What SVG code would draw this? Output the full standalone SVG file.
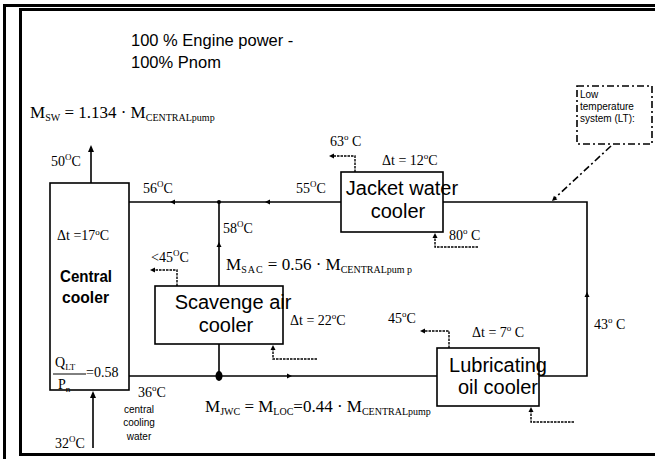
<svg xmlns="http://www.w3.org/2000/svg" width="655" height="459" viewBox="0 0 655 459">
<style>
.frame{fill:none;stroke:#000;stroke-width:3}
.box{fill:#fff;stroke:#000;stroke-width:1.6}
.pipe{fill:none;stroke:#000;stroke-width:1.6}
.dash{fill:none;stroke:#000;stroke-width:1.4;stroke-dasharray:2.5,1}
.dd{fill:none;stroke:#000;stroke-width:1.6;stroke-dasharray:7,3,2,3}
.t{font-family:"Liberation Serif",serif;font-size:14px;fill:#000}
.eq{font-family:"Liberation Serif",serif;font-size:17px;fill:#000}
.s{font-family:"Liberation Sans",Arial,sans-serif;fill:#000}
.lbl{font-family:"Liberation Sans",Arial,sans-serif;font-size:20px;fill:#000;text-anchor:middle}
.sup{font-size:9px}
.sub{font-size:10px}
</style>
<defs>
<path id="ah" d="M0,0 L-7,-3 L-7,3 Z" fill="#000"/>
<path id="ahs" d="M0,0 L-5,-2.5 L-5,2.5 Z" fill="#000"/>
</defs>

<!-- frame -->
<g id="frame">
<path class="frame" d="M3,5.5 H655 M4.5,4 V459"/>
<path class="frame" d="M656,9.5 H20.5 V454.5 H656"/>
</g>

<!-- title -->
<g id="title">
<text class="s" x="131" y="46" font-size="16.5">100 % Engine power -</text>
<text class="s" x="131" y="68" font-size="16.5">100% Pnom</text>
</g>

<!-- connectors -->
<g id="connectors">
<path class="pipe" d="M91,183 V150"/>
<use href="#ah" transform="translate(91,145) rotate(-90)"/>
<path class="pipe" d="M93,448 V396"/>
<use href="#ah" transform="translate(93,391) rotate(-90)"/>
<path class="pipe" d="M129,202 H341"/>
<use href="#ahs" transform="translate(170,202) rotate(180)"/>
<use href="#ahs" transform="translate(265,202) rotate(180)"/>
<circle cx="219" cy="202" r="2"/>
<path class="pipe" d="M219,202 V286"/>
<use href="#ahs" transform="translate(219,242) rotate(-90)"/>
<path class="pipe" d="M219,344 V376"/>
<ellipse cx="219" cy="376" rx="3.5" ry="5"/>
<path class="pipe" d="M129,376 H437"/>
<use href="#ahs" transform="translate(292,376)"/>
<path class="pipe" d="M539,376 H587 V202 H443"/>
<use href="#ahs" transform="translate(587,292) rotate(-90)"/>
<path class="dash" d="M177,286 V270 H154"/>
<use href="#ahs" transform="translate(150,270) rotate(180)"/>
<path class="dash" d="M355,172 V156 H333"/>
<use href="#ahs" transform="translate(329,156) rotate(180)"/>
<path class="dash" d="M478,247 H435 V237"/>
<use href="#ahs" transform="translate(435,233) rotate(-90)"/>
<path class="dash" d="M317,359 H273 V349"/>
<use href="#ahs" transform="translate(273,345) rotate(-90)"/>
<path class="dash" d="M449,348 V331 H424"/>
<use href="#ahs" transform="translate(420,331) rotate(180)"/>
<path class="dash" d="M574,422 H531 V411"/>
<use href="#ahs" transform="translate(531,407) rotate(-90)"/>
<path class="dd" d="M611,146 L555,198"/>
<use href="#ahs" transform="translate(552,201) rotate(137)"/>
</g>

<!-- nodes -->
<g id="central-cooler">
<rect class="box" x="50" y="183" width="79" height="207"/>
<text class="s" x="60" y="282" font-size="17" font-weight="bold" textLength="52" lengthAdjust="spacingAndGlyphs">Central</text>
<text class="s" x="62" y="303" font-size="17" font-weight="bold" textLength="47" lengthAdjust="spacingAndGlyphs">cooler</text>
<text class="t" x="57" y="240">Δt =17<tspan class="sup" dy="-5">o</tspan><tspan dy="5">C</tspan></text>
<text class="t" x="55" y="367" font-size="17">Q<tspan class="sup" dy="3">LT</tspan></text>
<path d="M53,374 H86" stroke="#000" stroke-width="1"/>
<text class="t" x="58" y="389" font-size="17">P<tspan class="sup" dy="3">n</tspan></text>
<text class="t" x="86" y="377" font-size="18">=0.58</text>
</g>

<g id="scavenge-air-cooler">
<rect class="box" x="155" y="286" width="128" height="58"/>
<text class="lbl" x="233" y="309">Scavenge air</text>
<text class="lbl" x="226" y="332">cooler</text>
</g>

<g id="jacket-water-cooler">
<rect class="box" x="341" y="172" width="102" height="60"/>
<text class="lbl" x="402" y="195">Jacket water</text>
<text class="lbl" x="398" y="218">cooler</text>
</g>

<g id="lubricating-oil-cooler">
<rect class="box" x="437" y="348" width="102" height="58"/>
<text class="lbl" x="498" y="372">Lubricating</text>
<text class="lbl" x="498" y="394">oil cooler</text>
</g>

<g id="lt-system">
<rect class="dd" x="577" y="86" width="75" height="58" stroke-width="1.4"/>
<text class="s" x="580" y="98" font-size="10">Low</text>
<text class="s" x="580" y="110" font-size="10">temperature</text>
<text class="s" x="580" y="122" font-size="10">system (LT):</text>
</g>

<!-- labels -->
<g id="labels">
<text class="eq" x="30" y="118" font-size="16">M<tspan class="sub" dy="3">SW</tspan><tspan dy="-3"> = 1.134 · M</tspan><tspan class="sub" dy="3" font-size="9.5">CENTRALpump</tspan></text>
<text class="t" x="51" y="166">50<tspan class="sup" dy="-6">O</tspan><tspan dy="6">C</tspan></text>
<text class="t" x="143" y="193">56<tspan class="sup" dy="-6">O</tspan><tspan dy="6">C</tspan></text>
<text class="t" x="296" y="193">55<tspan class="sup" dy="-6">O</tspan><tspan dy="6">C</tspan></text>
<text class="t" x="223" y="233">58<tspan class="sup" dy="-6">O</tspan><tspan dy="6">C</tspan></text>
<text class="t" x="151" y="262">&lt;45<tspan class="sup" dy="-6">O</tspan><tspan dy="6">C</tspan></text>
<text class="t" x="330" y="146">63<tspan class="sup" dy="-6">o</tspan><tspan dy="6"> C</tspan></text>
<text class="t" x="382" y="165" font-size="13">Δt = 12<tspan class="sup" dy="-6">o</tspan><tspan dy="6">C</tspan></text>
<text class="t" x="449" y="240">80<tspan class="sup" dy="-6">o</tspan><tspan dy="6"> C</tspan></text>
<text class="eq" x="226" y="270">M<tspan class="sub" dy="3" letter-spacing="1">SAC</tspan><tspan dy="-3"> = 0.56 · M</tspan><tspan class="sub" dy="3">CENTRALpum p</tspan></text>
<text class="t" x="290" y="325" font-size="13">Δt = 22<tspan class="sup" dy="-6">o</tspan><tspan dy="6">C</tspan></text>
<text class="t" x="388" y="323">45<tspan class="sup" dy="-6">o</tspan><tspan dy="6">C</tspan></text>
<text class="t" x="472" y="337" font-size="13">Δt = 7<tspan class="sup" dy="-6">o</tspan><tspan dy="6"> C</tspan></text>
<text class="t" x="594" y="329">43<tspan class="sup" dy="-6">o</tspan><tspan dy="6"> C</tspan></text>
<text class="eq" x="205" y="412" font-size="15">M<tspan class="sub" dy="3" font-size="9">JWC</tspan><tspan dy="-3"> = M</tspan><tspan class="sub" dy="3" font-size="9">LOC</tspan><tspan dy="-3">=0.44 · M</tspan><tspan class="sub" dy="3" font-size="9">CENTRALpump</tspan></text>
<text class="t" x="138" y="397">36<tspan class="sup" dy="-6">o</tspan><tspan dy="6">C</tspan></text>
<text class="s" x="139" y="413" font-size="10" text-anchor="middle">central</text>
<text class="s" x="139" y="426" font-size="10" text-anchor="middle">cooling</text>
<text class="s" x="139" y="440" font-size="10" text-anchor="middle">water</text>
<text class="t" x="55" y="448">32<tspan class="sup" dy="-6">O</tspan><tspan dy="6">C</tspan></text>
</g>
</svg>
